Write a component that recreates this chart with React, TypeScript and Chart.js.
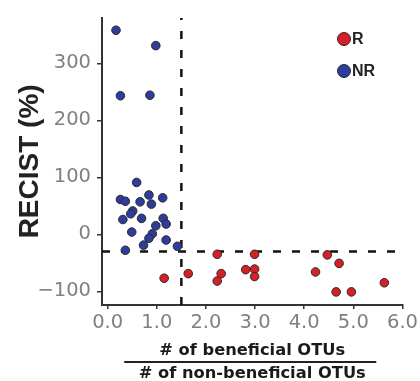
import React, { useEffect, useRef } from 'react';
import { Chart, registerables } from 'chart.js';

Chart.register(...registerables);

// ---- data ----
const rX = [1.15, 1.64, 2.23, 2.31, 2.23, 2.81, 2.99, 2.99, 2.99, 4.23, 4.47, 4.71, 4.65, 4.96, 5.63];
const rY = [-77, -69, -35, -69, -82, -62, -35, -61, -74, -66, -36, -51, -101, -101, -85];
const nrX = [0.17, 0.98, 0.26, 0.86, 0.59, 0.26, 0.36, 0.84, 0.66, 0.89, 1.12, 0.51, 0.47, 0.31, 0.69, 1.13, 1.19, 0.98, 0.49, 0.91, 0.84, 1.19, 0.73, 1.42, 0.36];
const nrY = [358, 331, 243, 244, 91, 61, 58, 69, 57, 53, 64, 41, 36, 26, 28, 28, 18, 15, 4, 1, -7, -10, -19, -21, -28];
const cutX = 1.5;
const cutY = -30;
const xTicks = [0, 1, 2, 3, 4, 5, 6];
const yTicks = [-100, 0, 100, 200, 300];
const xRange = [-0.115, 6];
const yRange = [-124, 380];
const seriesNames = ['R', 'NR'];
const xTitle = ['# of beneficial OTUs', '# of non-beneficial OTUs'];
const yTitle = 'RECIST (%)';

// ---- style ----
const FONT = "'Liberation Sans', Arial, Helvetica, sans-serif";
const WIDE = "'DejaVu Sans', Verdana, sans-serif";
const RED = '#D71F27';
const BLUE = '#2E3D9C';
const EDGE = '#2a2a2a';
const AXIS = '#333333';
const TICK_TXT = '#808080';
const XT_SIZE = 16.3;
const XT_LH = 23;
const XT_PADB = -4;

const fractionBar = {
  id: 'fractionBar',
  afterDraw(chart: any) {
    const sx = chart.scales.x;
    const ctx = chart.ctx;
    ctx.save();
    ctx.font = `bold ${XT_SIZE}px ${WIDE}`;
    const w = ctx.measureText(xTitle[1]).width + 25;
    const cx = (sx.left + sx.right) / 2 - 2;
    const y = sx.bottom - XT_PADB - XT_LH;
    ctx.strokeStyle = '#222';
    ctx.lineWidth = 2;
    ctx.beginPath();
    ctx.moveTo(cx - w / 2, y);
    ctx.lineTo(cx + w / 2, y);
    ctx.stroke();
    ctx.restore();
  },
};

export default function App() {
  const ref = useRef<HTMLCanvasElement>(null);

  useEffect(() => {
    if (!ref.current) return;
    const chart = new Chart(ref.current, {
      type: 'scatter',
      data: {
        datasets: [
          {
            label: seriesNames[0],
            data: rX.map((x, i) => ({ x, y: rY[i] })),
            backgroundColor: RED,
            borderColor: EDGE,
            borderWidth: 1,
            pointRadius: 4.3,
            order: 0,
          },
          {
            label: seriesNames[1],
            data: nrX.map((x, i) => ({ x, y: nrY[i] })),
            backgroundColor: BLUE,
            borderColor: EDGE,
            borderWidth: 1,
            pointRadius: 4.3,
            order: 1,
          },
          {
            type: 'line',
            label: 'x cut',
            data: [{ x: cutX, y: yRange[0] }, { x: cutX, y: yRange[1] }],
            borderColor: '#111',
            borderWidth: 2.5,
            borderDash: [8, 11],
            pointRadius: 0,
            fill: false,
            order: 5,
          } as any,
          {
            type: 'line',
            label: 'y cut',
            data: [{ x: xRange[0], y: cutY }, { x: xRange[1], y: cutY }],
            borderColor: '#111',
            borderWidth: 2.5,
            borderDash: [8, 11],
            pointRadius: 0,
            fill: false,
            order: 5,
          } as any,
        ],
      },
      options: {
        animation: false,
        responsive: false,
        layout: { padding: { top: 12, right: 13, left: 0, bottom: 0 } },
        plugins: { legend: { display: false }, tooltip: { enabled: false } },
        scales: {
          x: {
            type: 'linear',
            min: xRange[0],
            max: xRange[1],
            afterBuildTicks: (axis: any) => {
              axis.ticks = xTicks.map((v) => ({ value: v }));
            },
            afterFit: (scale: any) => {
              scale.height = 76;
            },
            ticks: {
              color: TICK_TXT,
              font: { family: WIDE, size: 19.5 },
              padding: 2,
              callback: (v: any) => Number(v).toFixed(1),
            },
            grid: { display: true, drawOnChartArea: false, drawTicks: true, tickLength: 4, color: AXIS, lineWidth: 1.5 },
            border: { display: true, color: AXIS, width: 2 },
            title: {
              display: true,
              text: xTitle,
              color: '#1a1a1a',
              font: { family: WIDE, size: XT_SIZE, weight: 'bold', lineHeight: XT_LH / XT_SIZE },
              padding: { top: 0, bottom: XT_PADB },
            },
          },
          y: {
            type: 'linear',
            min: yRange[0],
            max: yRange[1],
            afterBuildTicks: (axis: any) => {
              axis.ticks = yTicks.map((v) => ({ value: v }));
            },
            afterFit: (scale: any) => {
              scale.width = 102;
            },
            ticks: {
              color: TICK_TXT,
              font: { family: WIDE, size: 19.5 },
              padding: 6,
              callback: (v: any) => (Number(v) < 0 ? '\u2212' + Math.abs(Number(v)) : String(v)),
            },
            grid: { display: true, drawOnChartArea: false, drawTicks: true, tickLength: 5, color: AXIS, lineWidth: 1.5 },
            border: { display: true, color: AXIS, width: 2 },
            title: {
              display: true,
              text: yTitle,
              color: '#222',
              font: { family: FONT, size: 28, weight: 'bold', lineHeight: 1.2 },
              padding: { top: 13.5, bottom: 0 },
            },
          },
        },
      },
      plugins: [fractionBar],
    });
    return () => chart.destroy();
  }, []);

  const legendItems = [
    { name: seriesNames[0], color: RED, cy: 39 },
    { name: seriesNames[1], color: BLUE, cy: 71 },
  ];

  return (
    <div style={{ position: 'fixed', left: 0, top: 0, width: 420, height: 381, background: '#fff' }}>
      <canvas ref={ref} width={420} height={381} style={{ display: 'block' }} />
      {legendItems.map((it) => (
        <div key={it.name}>
          <div
            style={{
              position: 'absolute',
              left: 336.5,
              top: it.cy - 7,
              width: 14,
              height: 14,
              borderRadius: '50%',
              background: it.color,
              border: `1px solid ${EDGE}`,
              boxSizing: 'border-box',
            }}
          />
          <div
            style={{
              position: 'absolute',
              left: 352,
              top: it.cy - 9,
              height: 18,
              lineHeight: '18px',
              fontFamily: FONT,
              fontWeight: 'bold',
              fontSize: 16,
              color: '#222',
            }}
          >
            {it.name}
          </div>
        </div>
      ))}
    </div>
  );
}
